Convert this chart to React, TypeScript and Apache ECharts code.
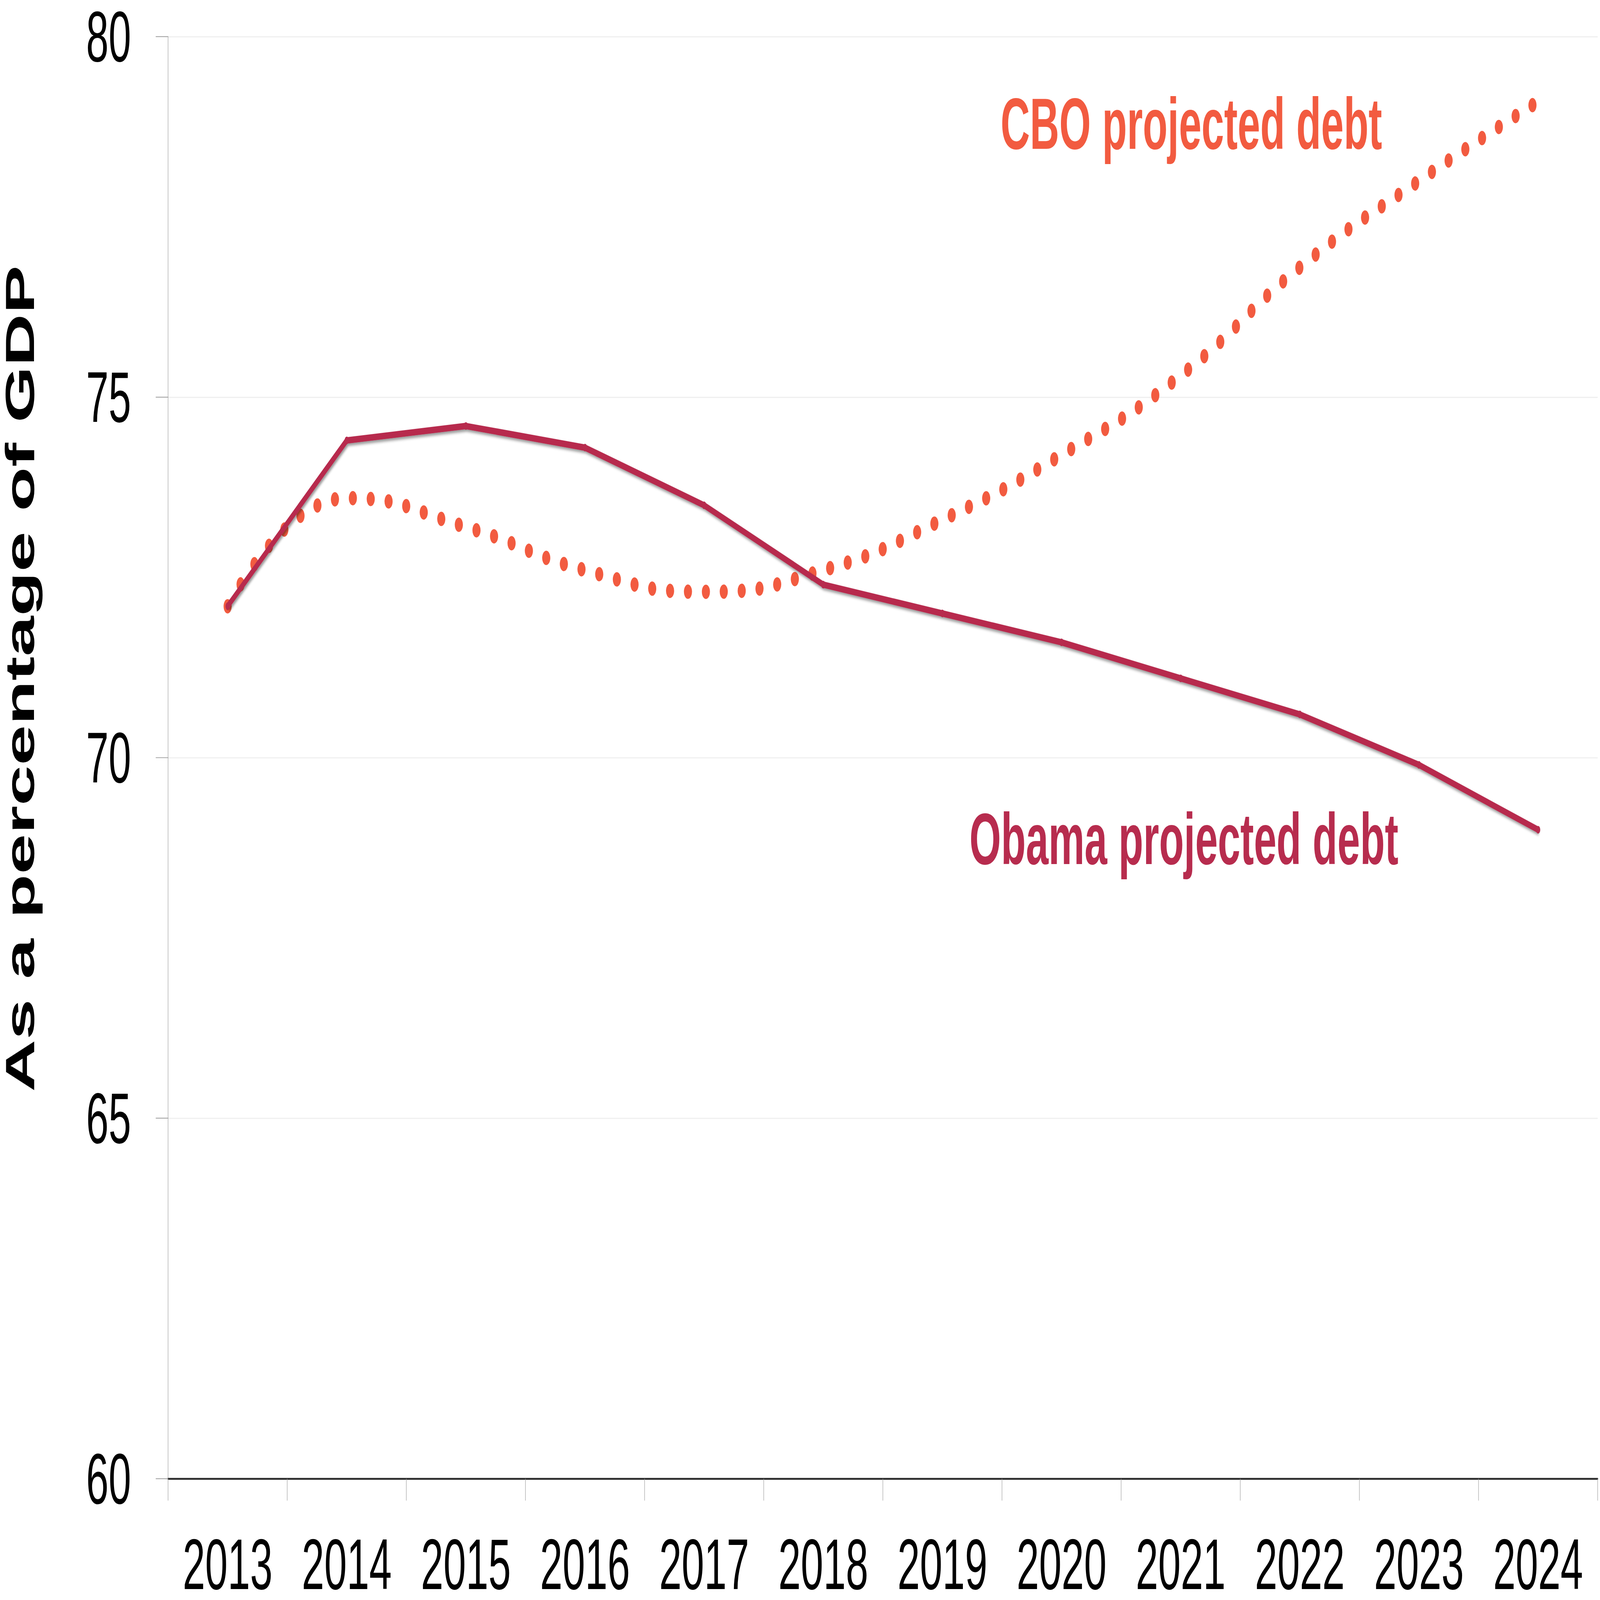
import React, { useEffect, useRef, useState } from "react";
import * as echarts from "echarts";

const years = ["2013", "2014", "2015", "2016", "2017", "2018", "2019", "2020", "2021", "2022", "2023", "2024"];
const obamaDebt = [72.1, 74.4, 74.6, 74.3, 73.5, 72.4, 72.0, 71.6, 71.1, 70.6, 69.9, 69.0];
const cboDebt = [72.1, 73.6, 73.2, 72.6, 72.3, 72.6, 73.3, 74.2, 75.3, 76.8, 78.0, 79.1];
const yTicks = { min: 60, max: 80, interval: 5 };
const labels = { cbo: "CBO projected debt", obama: "Obama projected debt", yTitle: "As a percentage of GDP" };

const FONT = "'Liberation Sans', Arial, Helvetica, sans-serif";
const OBAMA_COLOR = "#B72C4E";
const CBO_COLOR = "#F25B40";
const W = 7521;
const H = 4234;

export default function App() {
  const ref = useRef<HTMLDivElement>(null);
  const [scale, setScale] = useState({ x: 1, y: 1 });

  useEffect(() => {
    const update = () =>
      setScale({ x: window.innerWidth / W, y: window.innerHeight / H });
    update();
    window.addEventListener("resize", update);
    return () => window.removeEventListener("resize", update);
  }, []);

  useEffect(() => {
    if (!ref.current) return;
    const chart = echarts.init(ref.current, undefined, { renderer: "svg", width: W, height: H });
    chart.setOption({
      animation: false,
      backgroundColor: "#ffffff",
      grid: { left: 790, top: 97, right: 11, bottom: 311, containLabel: false },
      xAxis: {
        type: "category",
        data: years,
        boundaryGap: true,
        axisLine: { show: true, lineStyle: { color: "#2a2a2a", width: 5 } },
        axisTick: { show: true, length: 58, lineStyle: { color: "#9a9a9a", width: 2 } },
        axisLabel: { fontFamily: FONT, fontSize: 190, lineHeight: 150, color: "#000", margin: 151 },
        splitLine: { show: false },
      },
      yAxis: {
        type: "value",
        min: yTicks.min,
        max: yTicks.max,
        interval: yTicks.interval,
        axisLine: { show: true, lineStyle: { color: "#9a9a9a", width: 2 } },
        axisTick: { show: true, length: 58, lineStyle: { color: "#9a9a9a", width: 2 } },
        axisLabel: { fontFamily: FONT, fontSize: 190, lineHeight: 150, color: "#000", margin: 174 },
        splitLine: { show: true, lineStyle: { color: "#efefef", width: 3 } },
      },
      series: [
        {
          name: labels.cbo,
          type: "line",
          data: cboDebt,
          smooth: 0.5,
          showSymbol: false,
          symbol: "none",
          z: 2,
          lineStyle: { color: CBO_COLOR, width: 38, type: [0.1, 84], cap: "round" },
        },
        {
          name: labels.obama,
          type: "line",
          data: obamaDebt,
          smooth: false,
          symbol: "circle",
          symbolSize: 20,
          showSymbol: true,
          z: 3,
          itemStyle: { color: OBAMA_COLOR },
          lineStyle: {
            color: OBAMA_COLOR,
            width: 17,
            shadowColor: "rgba(0,0,0,0.4)",
            shadowBlur: 8,
            shadowOffsetX: 4,
            shadowOffsetY: 6,
          },
        },
      ],
      graphic: [
        {
          type: "text",
          x: 5600,
          y: 328,
          style: {
            text: labels.cbo,
            fill: CBO_COLOR,
            font: `bold 191px ${FONT}`,
            lineHeight: 160,
            textAlign: "center",
            textVerticalAlign: "middle",
          },
        },
        {
          type: "text",
          x: 5565,
          y: 2220,
          style: {
            text: labels.obama,
            fill: OBAMA_COLOR,
            font: `bold 191px ${FONT}`,
            lineHeight: 160,
            textAlign: "center",
            textVerticalAlign: "middle",
          },
        },
        {
          type: "text",
          x: 93,
          y: 1796,
          rotation: Math.PI / 2,
          style: {
            text: labels.yTitle,
            fill: "#000",
            font: `bold 192px ${FONT}`,
            lineHeight: 150,
            textAlign: "center",
            textVerticalAlign: "middle",
          },
        },
      ],
    });
    return () => chart.dispose();
  }, []);

  return (
    <div
      style={{
        position: "fixed",
        left: 0,
        top: 0,
        width: "100vw",
        height: "100vh",
        overflow: "hidden",
        background: "#fff",
      }}
    >
      <div
        ref={ref}
        style={{
          position: "absolute",
          left: 0,
          top: 0,
          width: `${W}px`,
          height: `${H}px`,
          transformOrigin: "0 0",
          transform: `scale(${scale.x}, ${scale.y})`,
          background: "#fff",
        }}
      />
    </div>
  );
}
